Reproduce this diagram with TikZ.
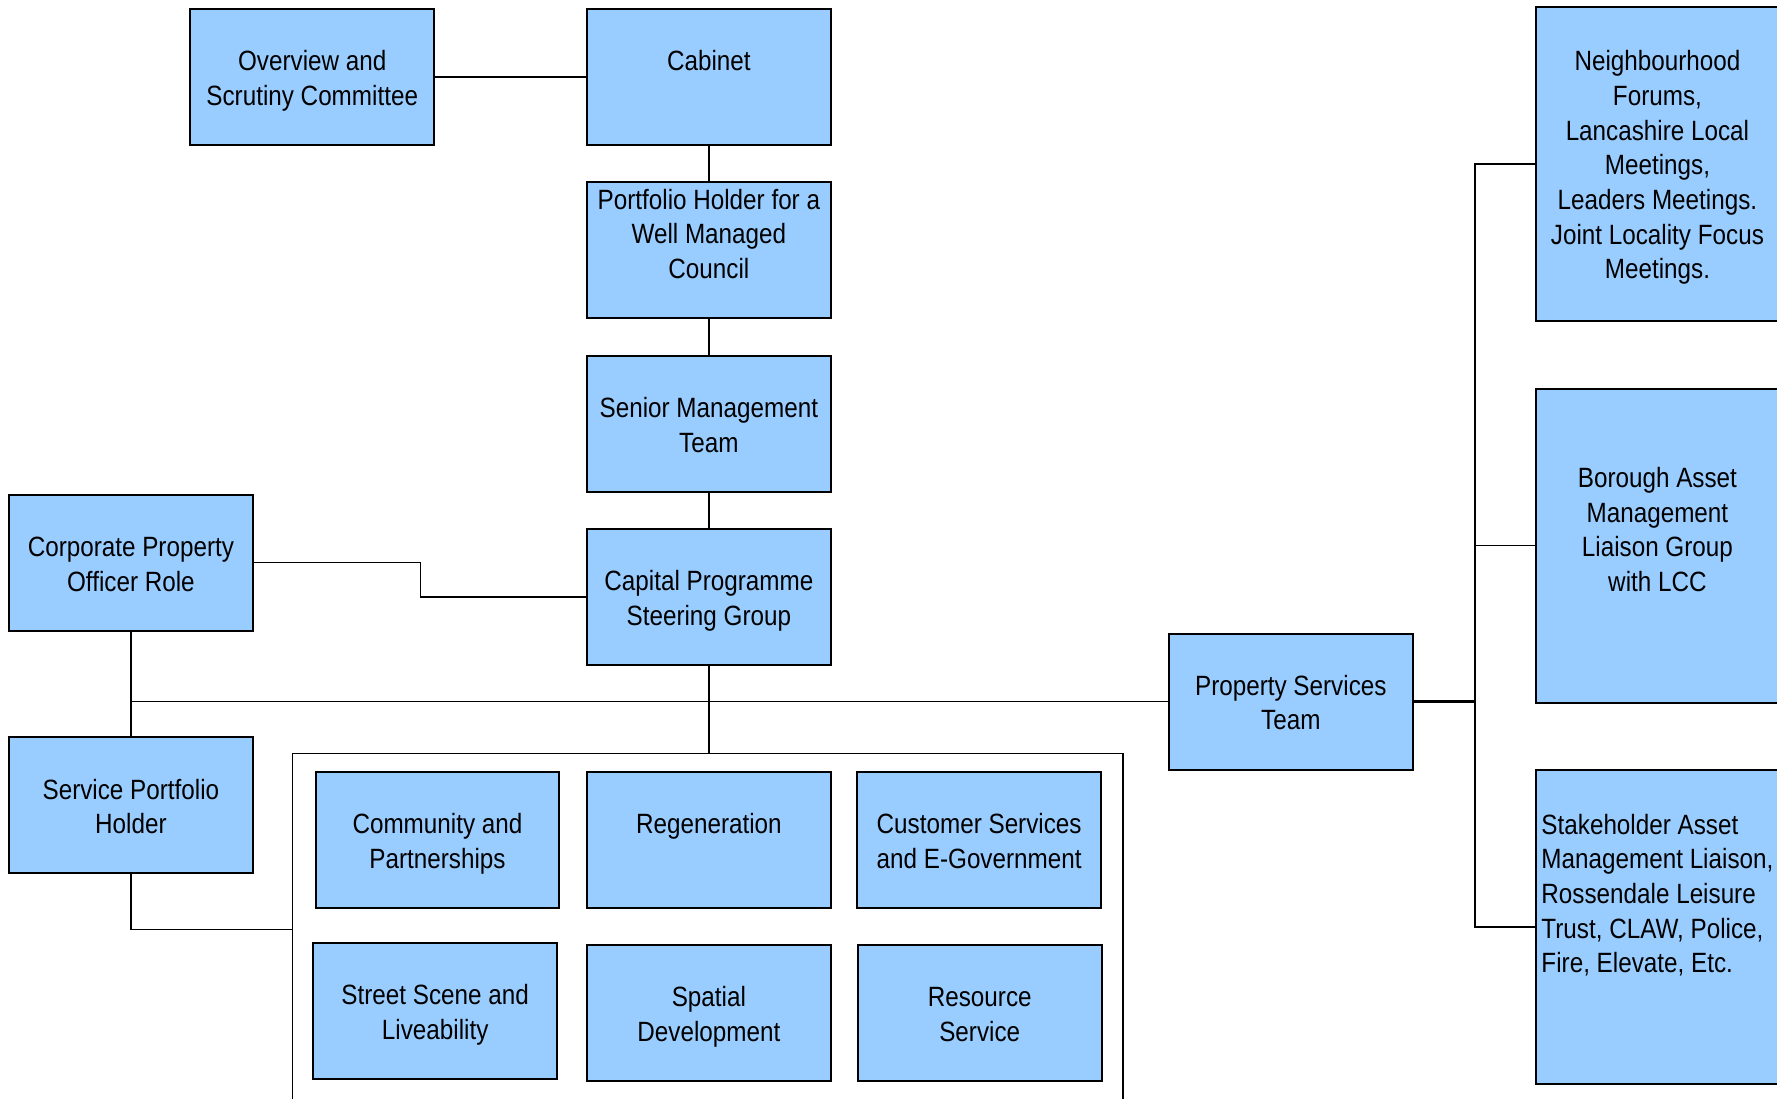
\documentclass[tikz,border=0pt]{standalone}
\usepackage{fontspec}
\setmainfont{Liberation Sans}[FakeStretch=0.87]
\usetikzlibrary{positioning}
\definecolor{boxblue}{HTML}{99CCFF}
% invisible struts so every box sets its lines the same way
\newcommand\orgtop{\rule{0pt}{8.2pt}}
\newcommand\orgbot{\rule[-2.6pt]{0pt}{2.6pt}}

\begin{document}
\begin{tikzpicture}[x=0.1mm,y=-0.1mm,
node distance=3.12mm,
orgbox/.style={draw,fill=boxblue,line width=0.5pt,minimum width=21.5mm,minimum height=12mm,align=center,inner sep=0.4mm,font=\fontsize{7}{8.7}\selectfont},
tallbox/.style={orgbox,minimum height=27.7mm},
link/.style={line width=0.4pt}]
\useasboundingbox (0,0) rectangle (1568,969);
% main line of the council
\node[orgbox] (cabinet) at (625.5,68) {\orgtop Cabinet\\~\orgbot};
\node[orgbox] (holder) [below=of cabinet] {Portfolio Holder for a\\Well Managed\\Council\rule[-8.3pt]{0pt}{8.3pt}};
\node[orgbox] (smt) [below=of holder] {\orgtop Senior Management\\Team\orgbot};
\node[orgbox] (cpsg) [below=of smt] {\orgtop Capital Programme\\Steering Group\orgbot};
\node[orgbox] (scrutiny) at (275.5,68) {\orgtop Overview and\\Scrutiny Committee\orgbot};
\node[orgbox] (cpo) at (115.5,496.5) {\orgtop Corporate Property\\Officer Role\orgbot};
\node[orgbox] (sph) at (115.5,710.5) {\orgtop Service Portfolio\\Holder\orgbot};
\node[orgbox] (pst) at (1139,619) {\orgtop Property Services\\Team\orgbot};
% partner groups on the right
\node[tallbox] (forums) at (1462.5,144.5) {\orgtop Neighbourhood\\Forums,\\Lancashire Local\\Meetings,\\Leaders Meetings.\\Joint Locality Focus\\Meetings.\orgbot};
\node[tallbox] (bamlg) at (1462.5,481.5) {\orgtop Borough Asset\\Management\\Liaison Group\\with LCC\\~\orgbot};
\node[tallbox,align=left] (stake) at (1462.5,818) {\orgtop Stakeholder Asset\\Management Liaison,\\Rossendale Leisure\\Trust, CLAW, Police,\\Fire, Elevate, Etc.\\~\\~\orgbot};
% service areas
\node[draw,line width=0.4pt,minimum width=73.3mm,minimum height=31mm] (services) at (624.5,820) {};
\node[orgbox] (community) at (386,741) {\orgtop Community and\\Partnerships\orgbot};
\node[orgbox] (regen) at (625.5,741) {\orgtop Regeneration\\~\orgbot};
\node[orgbox] (customer) at (864,741) {\orgtop Customer Services\\and E-Government\orgbot};
\node[orgbox] (street) at (384,892) {\orgtop Street Scene and\\Liveability\orgbot};
\node[orgbox] (spatial) at (625.5,894) {\orgtop Spatial\\Development\orgbot};
\node[orgbox] (resource) at (864.5,894) {\orgtop Resource\\Service\orgbot};

\draw[link] (scrutiny)--(cabinet);
\draw[link] (cabinet)--(holder);
\draw[link] (holder)--(smt);
\draw[link] (smt)--(cpsg);
\draw[link] (cpo.east)--++(147,0)|-(cpsg.west);
\draw[link] (cpo)--(sph);
\draw[link] (cpo.south|-pst.west)--(pst.west);
\draw[link] (cpsg.south)--(cpsg.south|-services.north);
\draw[link] (sph.south)|-(services.west);
\draw[line width=0.7pt] (pst.east)--++(54,0) coordinate (bus);
\draw[link] (forums.west)-|(bus|-stake.west)--(stake.west);
\draw[link] (bamlg.west)--(bus|-bamlg.west);
\end{tikzpicture}
\end{document}
